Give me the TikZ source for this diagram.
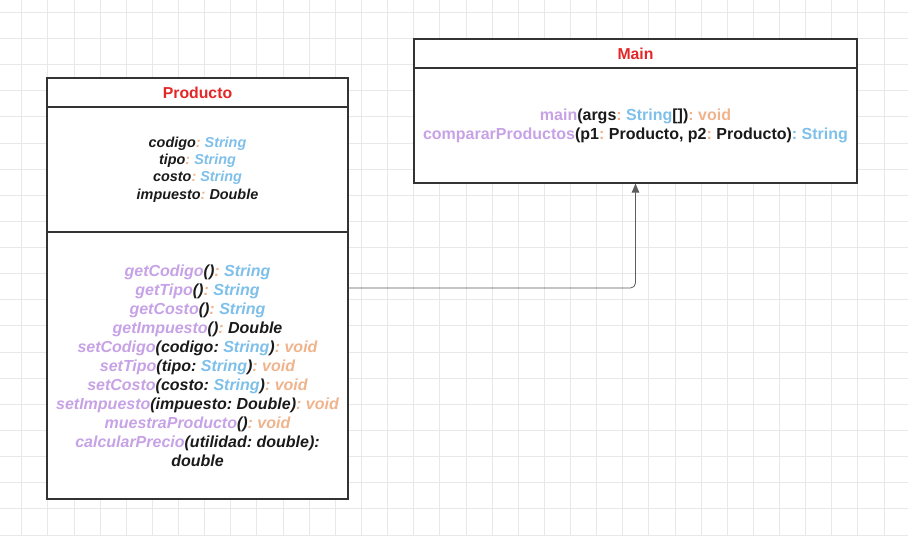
\documentclass[tikz,border=0pt]{standalone}
\usepackage{fontspec}
\setmainfont{Liberation Sans}
\usepackage{xcolor}
\usetikzlibrary{arrows.meta}

\definecolor{umlRed}{HTML}{E32727}
\definecolor{umlPurple}{HTML}{C7A2E6}
\definecolor{umlBlue}{HTML}{7EC0EA}
\definecolor{umlOrange}{HTML}{F0B48C}
\definecolor{umlText}{HTML}{1A1A1A}
\definecolor{umlLine}{HTML}{333333}
\definecolor{gridGray}{HTML}{E8E8E8}

\newcommand{\mfn}[1]{\textcolor{umlPurple}{#1}}
\newcommand{\mty}[1]{\textcolor{umlBlue}{#1}}
\newcommand{\mor}[1]{\textcolor{umlOrange}{#1}}
\frenchspacing

\begin{document}
\begin{tikzpicture}[x=1pt, y=-1pt,
        umlbox/.style = {draw=umlLine, line width=1.2pt, fill=white,
            inner sep=0pt, align=center, text=umlText},
        classname/.style = {umlbox, text=umlRed,
            font=\fontsize{15.8}{19}\selectfont\bfseries},
        members/.style = {umlbox,
            font=\fontsize{16}{19}\selectfont\bfseries},
        conn/.style = {draw=umlLine!80, line width=0.8pt, rounded corners=5pt,
            -{Triangle[length=9pt, width=7.5pt]}}]

        % Background grid
        \useasboundingbox (0,0) rectangle (908,536);
        \fill[white] (0,0) rectangle (908,536);
        \foreach \i in {0,...,34}
            \draw[gridGray, line width=0.8pt] (21.7+26.13*\i,0) -- (21.7+26.13*\i,536);
        \foreach \j in {0,...,20}
            \draw[gridGray, line width=0.8pt] (0,12.3+26.13*\j) -- (908,12.3+26.13*\j);

        % Class Producto
        \node[classname, minimum width=301pt, minimum height=29pt] (prodName) at (197.5,92.5) {Producto};
        \node[members, minimum width=301pt, minimum height=125pt,
            font=\fontsize{14.4}{17.2}\selectfont\bfseries\itshape] (prodAttr) at (197.5,169.5)
            {codigo\mor{:} \mty{String}\\
             tipo\mor{:} \mty{String}\\
             costo\mor{:} \mty{String}\\
             impuesto\mor{:} Double};
        \node[members, minimum width=301pt, minimum height=267pt, font=\fontsize{16}{19}\selectfont\bfseries\itshape] (prodOps) at (197.5,365.5)
            {\mfn{getCodigo}()\mor{:} \mty{String}\\
             \mfn{getTipo}()\mor{:} \mty{String}\\
             \mfn{getCosto}()\mor{:} \mty{String}\\
             \mfn{getImpuesto}()\mor{:} Double\\
             \mfn{setCodigo}(codigo: \mty{String})\mor{: void}\\
             \mfn{setTipo}(tipo: \mty{String})\mor{: void}\\
             \mfn{setCosto}(costo: \mty{String})\mor{: void}\\
             \mfn{setImpuesto}(impuesto: Double)\mor{: void}\\
             \mfn{muestraProducto}()\mor{: void}\\
             \mfn{calcularPrecio}(utilidad: double):\\
             double};

        % Class Main
        \node[classname, minimum width=443pt, minimum height=29pt] (mainName) at (635.5,53.5) {Main};
        \node[members, minimum width=443pt, minimum height=115pt] (mainOps) at (635.5,125.5)
            {\mfn{main}(args\mor{:} \mty{String}[])\mor{: void}\\
             \mfn{compararProductos}(p1\mor{:} Producto, p2\mor{:} Producto)\mty{: String}};

        % Association
        \draw[conn] ([yshift=77.5pt]prodOps.east) -| (mainOps.south);
    \end{tikzpicture}
\end{document}
